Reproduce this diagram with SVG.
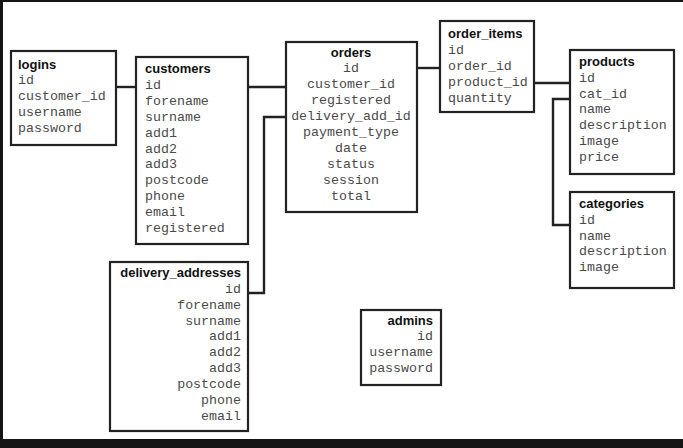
<svg xmlns="http://www.w3.org/2000/svg" width="683" height="448" viewBox="0 0 683 448">
<style>
.box{fill:#fff;stroke:#222;stroke-width:2.2}
.t{font-family:"Liberation Sans",Arial,sans-serif;font-weight:bold;font-size:13px;fill:#111}
.f{font-family:"Liberation Mono","Courier New",monospace;font-size:13.3px;fill:#4a4a4a}
.c{fill:none;stroke:#222;stroke-width:2.4}
.r{text-anchor:end}
.m{text-anchor:middle}
</style>
<rect x="0" y="0" width="683" height="448" fill="#fff"/>
<rect x="0" y="0" width="683" height="2" fill="#151515"/>
<rect x="0" y="0" width="3" height="448" fill="#151515"/>
<rect x="0" y="439" width="683" height="9" fill="#151515"/>
<g id="connectors">
<path class="c" d="M116,87 H136"/>
<path class="c" d="M248,87 H286"/>
<path class="c" d="M286,117 H264 V293 H248"/>
<path class="c" d="M417,68 H440"/>
<path class="c" d="M534,83 H570"/>
<path class="c" d="M570,99 H553 V225 H570"/>
</g>
<g id="logins">
<rect class="box" x="11" y="51" width="105" height="94"/>
<text class="t" x="18" y="69">logins</text>
<text class="f" x="18" y="84">id</text>
<text class="f" x="18" y="100">customer_id</text>
<text class="f" x="18" y="116">username</text>
<text class="f" x="18" y="132">password</text>
</g>
<g id="customers">
<rect class="box" x="136" y="57" width="112" height="187"/>
<text class="t" x="145" y="73">customers</text>
<text class="f" x="145" y="89">id</text>
<text class="f" x="145" y="105">forename</text>
<text class="f" x="145" y="121">surname</text>
<text class="f" x="145" y="137">add1</text>
<text class="f" x="145" y="153">add2</text>
<text class="f" x="145" y="168">add3</text>
<text class="f" x="145" y="184">postcode</text>
<text class="f" x="145" y="200">phone</text>
<text class="f" x="145" y="216">email</text>
<text class="f" x="145" y="232">registered</text>
</g>
<g id="orders">
<rect class="box" x="286" y="42" width="131" height="170"/>
<text class="t m" x="351" y="57">orders</text>
<text class="f m" x="351" y="72">id</text>
<text class="f m" x="351" y="88">customer_id</text>
<text class="f m" x="351" y="104">registered</text>
<text class="f m" x="351" y="120">delivery_add_id</text>
<text class="f m" x="351" y="136">payment_type</text>
<text class="f m" x="351" y="152">date</text>
<text class="f m" x="351" y="168">status</text>
<text class="f m" x="351" y="184">session</text>
<text class="f m" x="351" y="200">total</text>
</g>
<g id="order_items">
<rect class="box" x="440" y="21" width="94" height="91"/>
<text class="t" x="448" y="38">order_items</text>
<text class="f" x="448" y="54">id</text>
<text class="f" x="448" y="70">order_id</text>
<text class="f" x="448" y="86">product_id</text>
<text class="f" x="448" y="102">quantity</text>
</g>
<g id="products">
<rect class="box" x="570" y="50" width="104" height="124"/>
<text class="t" x="579" y="66">products</text>
<text class="f" x="579" y="82">id</text>
<text class="f" x="579" y="98">cat_id</text>
<text class="f" x="579" y="113">name</text>
<text class="f" x="579" y="129">description</text>
<text class="f" x="579" y="145">image</text>
<text class="f" x="579" y="161">price</text>
</g>
<g id="categories">
<rect class="box" x="570" y="192" width="104" height="96"/>
<text class="t" x="579" y="208">categories</text>
<text class="f" x="579" y="224">id</text>
<text class="f" x="579" y="240">name</text>
<text class="f" x="579" y="255">description</text>
<text class="f" x="579" y="271">image</text>
</g>
<g id="delivery_addresses">
<rect class="box" x="110" y="262" width="138" height="169"/>
<text class="t r" x="241" y="277">delivery_addresses</text>
<text class="f r" x="241" y="293">id</text>
<text class="f r" x="241" y="309">forename</text>
<text class="f r" x="241" y="325">surname</text>
<text class="f r" x="241" y="340">add1</text>
<text class="f r" x="241" y="356">add2</text>
<text class="f r" x="241" y="372">add3</text>
<text class="f r" x="241" y="388">postcode</text>
<text class="f r" x="241" y="404">phone</text>
<text class="f r" x="241" y="420">email</text>
</g>
<g id="admins">
<rect class="box" x="361" y="310" width="80" height="75"/>
<text class="t r" x="433" y="325">admins</text>
<text class="f r" x="433" y="340">id</text>
<text class="f r" x="433" y="356">username</text>
<text class="f r" x="433" y="372">password</text>
</g>
</svg>
